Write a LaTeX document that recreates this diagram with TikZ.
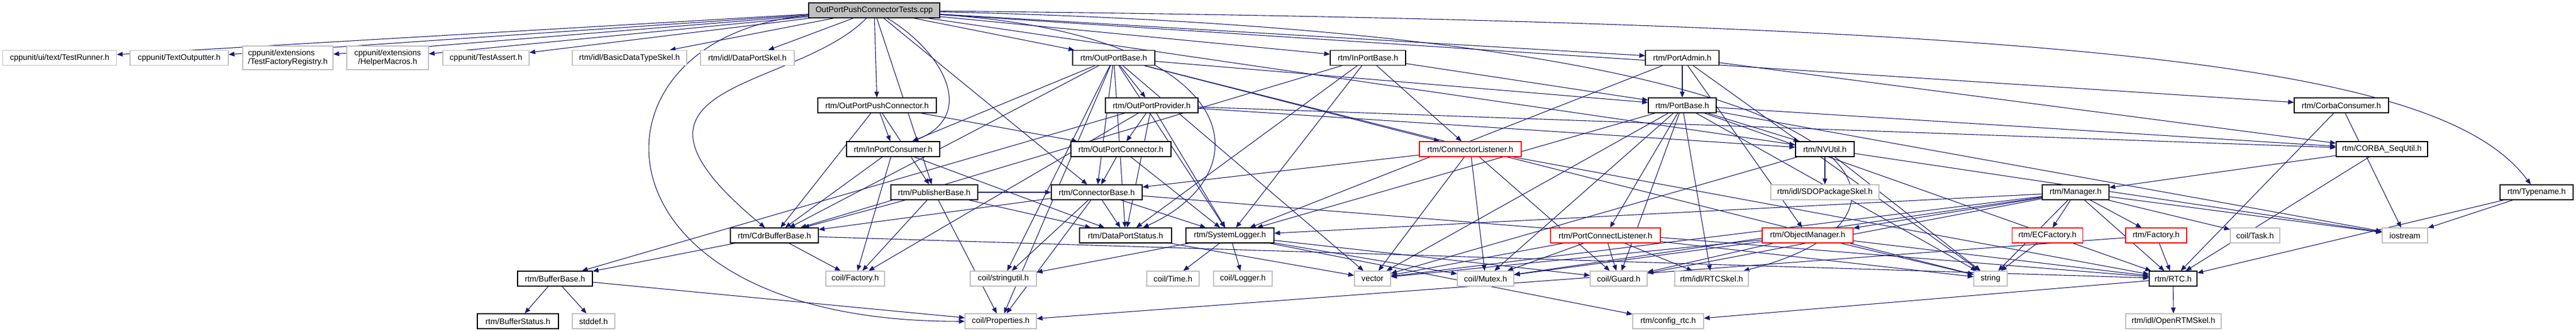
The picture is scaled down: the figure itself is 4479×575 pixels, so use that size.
\documentclass[tikz,border=0pt]{standalone}
\usepackage{fontspec}
\usepackage{tikz}
\usetikzlibrary{arrows.meta}
\usetikzlibrary{backgrounds}
\newfontfamily\dotfont{Liberation Sans}
\definecolor{dblue}{rgb}{0.1, 0.1, 0.44}
\definecolor{lgray}{rgb}{0.75, 0.75, 0.75}
\tikzset{hfile/.style = {draw=black, fill=white, line width=1.2, rectangle, inner sep=0, minimum height=26, font=\dotfont\fontsize{14}{15}\selectfont}}
\tikzset{xfile/.style = {hfile, draw=lgray}}
\tikzset{tfile/.style = {hfile, draw=red}}
\tikzset{dep/.style = {dblue, line width=1.1, -{Triangle[length=10pt, width=8pt]}}}

\begin{document}
\begin{tikzpicture}[x=1pt, y=-1pt]
      \useasboundingbox (0, 0) rectangle (4479, 575);

      \node [hfile, fill=lgray, minimum width=228] (main) at (1520, 18) {OutPortPushConnectorTests.cpp};

      \node [xfile, minimum width=198] (runner) at (103.7, 100.5) {cppunit/ui/text/TestRunner.h};
      \node [xfile, minimum width=171] (outputter) at (311.5, 100.5) {cppunit/TextOutputter.h};
      \node [xfile, minimum width=157, minimum height=41, align=left] (registry) at (500.5, 100.5) {cppunit/extensions\\/TestFactoryRegistry.h};
      \node [xfile, minimum width=142, minimum height=41, align=center] (macros) at (674, 100.5) {cppunit/extensions\\/HelperMacros.h};
      \node [xfile, minimum width=150] (assert) at (845, 100.5) {cppunit/TestAssert.h};
      \node [xfile, minimum width=199] (basicskel) at (1094.5, 100.5) {rtm/idl/BasicDataTypeSkel.h};
      \node [xfile, minimum width=163] (portskel) at (1299.5, 100.5) {rtm/idl/DataPortSkel.h};
      \node [hfile, minimum width=143] (outbase) at (1936.5, 100.5) {rtm/OutPortBase.h};
      \node [hfile, minimum width=131] (inbase) at (2378.5, 100.5) {rtm/InPortBase.h};
      \node [hfile, minimum width=128] (admin) at (2925, 100.5) {rtm/PortAdmin.h};

      \node [hfile, minimum width=206] (pushconn) at (1525, 183) {rtm/OutPortPushConnector.h};
      \node [hfile, minimum width=161] (provider) at (2002.5, 183) {rtm/OutPortProvider.h};
      \node [hfile, minimum width=118] (portbase) at (2925, 183) {rtm/PortBase.h};
      \node [hfile, minimum width=164] (corbacons) at (4071, 183) {rtm/CorbaConsumer.h};

      \node [hfile, minimum width=162] (consumer) at (1553, 259) {rtm/InPortConsumer.h};
      \node [hfile, minimum width=174] (outconn) at (1949, 259) {rtm/OutPortConnector.h};
      \node [tfile, minimum width=177] (connlist) at (2556.5, 259) {rtm/ConnectorListener.h};
      \node [hfile, minimum width=102] (nvutil) at (3173, 259) {rtm/NVUtil.h};
      \node [hfile, minimum width=159] (sequtil) at (4141.5, 259) {rtm/CORBA\_SeqUtil.h};

      \node [hfile, minimum width=151] (publisher) at (1624.5, 334) {rtm/PublisherBase.h};
      \node [hfile, minimum width=158] (connbase) at (1907, 334) {rtm/ConnectorBase.h};
      \node [xfile, minimum width=188] (sdoskel) at (3173, 334) {rtm/idl/SDOPackageSkel.h};
      \node [hfile, minimum width=116] (manager) at (3609, 334) {rtm/Manager.h};
      \node [hfile, minimum width=127] (typename) at (4410.5, 334) {rtm/Typename.h};

      \node [hfile, minimum width=153] (cdrbuf) at (1346.5, 409) {rtm/CdrBufferBase.h};
      \node [hfile, minimum width=160] (portstatus) at (1957, 409) {rtm/DataPortStatus.h};
      \node [hfile, minimum width=153] (syslog) at (2138.5, 409) {rtm/SystemLogger.h};
      \node [tfile, minimum width=191] (portconn) at (2791.5, 409) {rtm/PortConnectListener.h};
      \node [tfile, minimum width=158] (objmgr) at (3143, 409) {rtm/ObjectManager.h};
      \node [tfile, minimum width=123] (ecfactory) at (3560, 409) {rtm/ECFactory.h};
      \node [tfile, minimum width=106] (rtmfactory) at (3749, 409) {rtm/Factory.h};
      \node [xfile, minimum width=86] (task) at (3921, 409) {coil/Task.h};
      \node [xfile, minimum width=79] (iostream) at (4181.5, 409) {iostream};

      \node [hfile, minimum width=130] (bufbase) at (965, 484) {rtm/BufferBase.h};
      \node [xfile, minimum width=102] (factory) at (1487, 484) {coil/Factory.h};
      \node [xfile, minimum width=115] (stringutil) at (1744.5, 484) {coil/stringutil.h};
      \node [xfile, minimum width=91] (time) at (2039.5, 484) {coil/Time.h};
      \node [xfile, minimum width=102] (logger) at (2161, 484) {coil/Logger.h};
      \node [xfile, minimum width=63] (vector) at (2386.5, 484) {vector};
      \node [xfile, minimum width=98] (mutex) at (2583, 484) {coil/Mutex.h};
      \node [xfile, minimum width=99] (guard) at (2814.5, 484) {coil/Guard.h};
      \node [xfile, minimum width=128] (rtcskel) at (2976, 484) {rtm/idl/RTCSkel.h};
      \node [xfile, minimum width=58] (string) at (3461, 484) {string};
      \node [hfile, minimum width=83] (rtc) at (3778.5, 484) {rtm/RTC.h};

      \node [hfile, minimum width=141] (bufstatus) at (900.5, 558) {rtm/BufferStatus.h};
      \node [xfile, minimum width=74] (stddef) at (1032, 558) {stddef.h};
      \node [xfile, minimum width=124] (properties) at (1740, 558) {coil/Properties.h};
      \node [xfile, minimum width=123] (configrtc) at (2900.5, 558) {rtm/config\_rtc.h};
      \node [xfile, minimum width=166] (openrtm) at (3779, 558) {rtm/idl/OpenRTMSkel.h};

      \begin{pgfonlayer}{background}
      % test file
      \path [dep] (main) edge (runner) edge (outputter) edge (registry) edge (macros)
        edge (assert) edge (basicskel) edge (portskel) edge (pushconn) edge (outbase)
        edge (inbase) edge (admin) edge (corbacons) edge (nvutil) edge (publisher) edge (connbase);
      \draw [dep] (main) .. controls (1640, 90) and (1700, 200) .. (consumer);
      \draw [dep] (main) .. controls (1000, 60) and (1000, 560) .. (properties);
      \draw [dep] (main) .. controls (1380, 160) and (1020, 140) .. (cdrbuf);
      \draw [dep] (main) .. controls (2170, 60) and (2200, 300) .. (portstatus);
      \draw [dep] (main) .. controls (3350, 60) and (3400, 380) .. (rtcskel);
      \draw [dep] (main) .. controls (3700, 40) and (4250, 120) .. (typename);

      % headers
      \path [dep] (outbase) edge (provider) edge (consumer) edge (connbase) edge (cdrbuf)
        edge (stringutil) edge (syslog) edge (portbase) edge (connlist) edge (portstatus)
        edge (vector) edge (string) edge (properties);
      \path [dep] (inbase) edge (portbase) edge (connlist) edge (portstatus) edge (cdrbuf) edge (syslog);
      \path [dep] (admin) edge (portbase) edge (objmgr) edge (syslog) edge (sequtil) edge (string);
      \path [dep] (portbase) edge (rtc) edge (nvutil) edge (sequtil) edge (syslog) edge (portconn)
        edge (mutex) edge (guard) edge (rtcskel) edge (string) edge (vector) edge (iostream);
      \path [dep] (pushconn) edge (consumer) edge (outconn) edge (publisher) edge (cdrbuf);
      \path [dep] (provider) edge (outconn) edge (bufbase) edge (factory) edge (portstatus)
        edge (syslog) edge (nvutil) edge (sequtil);
      \path [dep] (corbacons) edge (iostream) edge (rtc);
      \path [dep] (consumer) edge (factory) edge (portstatus) edge (cdrbuf);
      \path [dep] (outconn) edge (connbase) edge (syslog);
      \path [dep] (connlist) edge (connbase) edge (vector) edge (mutex) edge (guard) edge (rtc);
      \path [dep] (nvutil) edge (sdoskel) edge (string) edge (iostream) edge (vector);
      \path [dep] (sequtil) edge (manager) edge (rtc);
      \path [dep] (publisher) edge (cdrbuf) edge (portstatus) edge (factory) edge (properties) edge (connbase);
      \path [dep] (connbase) edge (cdrbuf) edge (portstatus) edge (syslog) edge (stringutil)
        edge (properties) edge (rtc);
      \path [dep] (manager) edge (objmgr) edge (ecfactory) edge (rtmfactory) edge (string) edge (mutex)
        edge (guard) edge (vector) edge (rtc) edge (task) edge (iostream) edge (syslog);
      \path [dep] (typename) edge (iostream) edge (rtc);
      \path [dep] (cdrbuf) edge (bufbase) edge (factory) edge (rtc);
      \path [dep] (portstatus) edge (vector);
      \path [dep] (syslog) edge (stringutil) edge (time) edge (logger) edge (mutex) edge (guard) edge (configrtc);
      \path [dep] (portconn) edge (vector) edge (mutex) edge (guard) edge (rtcskel) edge (string);
      \path [dep] (objmgr) edge (vector) edge (mutex) edge (guard) edge (string) edge (rtc);
      \path [dep] (ecfactory) edge (string);
      \path [dep] (rtmfactory) edge (properties) edge (rtc);
      \path [dep] (bufbase) edge (bufstatus) edge (stddef) edge (properties);
      \path [dep] (rtc) edge (openrtm) edge (configrtc);
      \end{pgfonlayer}
    \end{tikzpicture}
\end{document}
